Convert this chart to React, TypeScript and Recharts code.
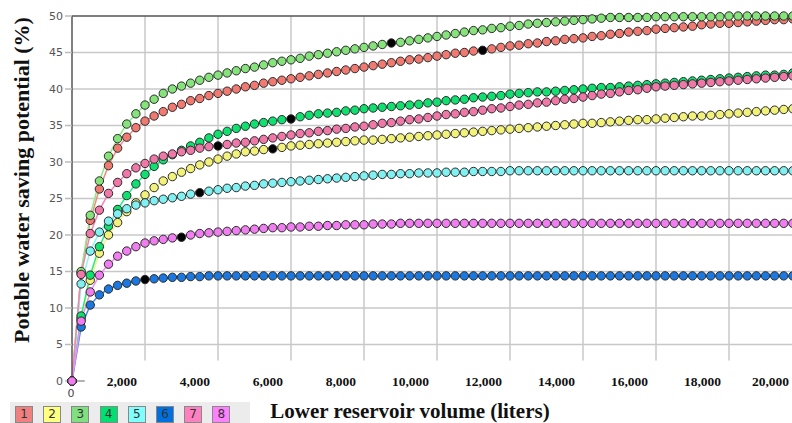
import React from "react";
import { LineChart, Line, XAxis, YAxis, ReferenceLine } from "recharts";

const volumes = [
  0, 250, 500, 750, 1000, 1250, 1500, 1750, 2000, 2250, 2500, 2750, 3000, 3250, 3500, 3750,
  4000, 4250, 4500, 4750, 5000, 5250, 5500, 5750, 6000, 6250, 6500, 6750, 7000, 7250, 7500, 7750,
  8000, 8250, 8500, 8750, 9000, 9250, 9500, 9750, 10000, 10250, 10500, 10750, 11000, 11250, 11500, 11750,
  12000, 12250, 12500, 12750, 13000, 13250, 13500, 13750, 14000, 14250, 14500, 14750, 15000, 15250, 15500, 15750,
  16000, 16250, 16500, 16750, 17000, 17250, 17500, 17750, 18000, 18250, 18500, 18750, 19000, 19250, 19500, 19750,
  20000,
];

const s1 = [
  0, 14.8, 22.0, 26.3, 29.5, 31.9, 33.4, 34.7, 35.6, 36.3, 36.9, 37.5, 37.9, 38.4, 38.7, 39.1,
  39.4, 39.7, 40.0, 40.3, 40.5, 40.8, 41.0, 41.2, 41.4, 41.6, 41.8, 42.0, 42.2, 42.4, 42.6, 42.8,
  43.0, 43.2, 43.4, 43.6, 43.8, 44.0, 44.1, 44.3, 44.5, 44.7, 44.9, 45.0, 45.2, 45.3, 45.5, 45.7,
  45.9, 46.0, 46.2, 46.3, 46.5, 46.6, 46.8, 46.9, 47.0, 47.2, 47.3, 47.5, 47.6, 47.8, 47.9, 48.0,
  48.2, 48.3, 48.4, 48.5, 48.6, 48.8, 48.9, 49.0, 49.0, 49.1, 49.2, 49.3, 49.4, 49.5, 49.5, 49.6,
  49.7,
];
const s2 = [
  0, 8.5, 13.8, 17.5, 20.0, 21.7, 23.2, 24.4, 25.5, 26.5, 27.4, 28.0, 28.6, 29.1, 29.6, 30.0,
  30.4, 30.8, 31.1, 31.4, 31.5, 31.7, 31.8, 32.0, 32.2, 32.3, 32.4, 32.5, 32.6, 32.7, 32.8, 32.9,
  33.0, 33.0, 33.1, 33.2, 33.3, 33.4, 33.5, 33.6, 33.7, 33.8, 33.9, 34.0, 34.1, 34.2, 34.3, 34.4,
  34.5, 34.6, 34.7, 34.8, 34.9, 35.0, 35.1, 35.2, 35.3, 35.3, 35.4, 35.5, 35.6, 35.7, 35.8, 35.8,
  35.9, 36.0, 36.1, 36.2, 36.3, 36.3, 36.4, 36.5, 36.6, 36.7, 36.8, 36.9, 37.0, 37.1, 37.2, 37.3,
  37.3,
];
const s3 = [
  0, 15.0, 22.7, 27.4, 30.8, 33.2, 35.2, 36.6, 37.8, 38.6, 39.4, 40.0, 40.4, 40.8, 41.2, 41.6,
  41.9, 42.2, 42.5, 42.8, 43.0, 43.3, 43.6, 43.8, 44.0, 44.2, 44.5, 44.7, 44.9, 45.1, 45.3, 45.5,
  45.7, 45.9, 46.1, 46.3, 46.4, 46.6, 46.8, 47.0, 47.2, 47.4, 47.6, 47.8, 48.0, 48.1, 48.3, 48.4,
  48.6, 48.7, 48.9, 49.0, 49.1, 49.2, 49.3, 49.4, 49.5, 49.6, 49.7, 49.8, 49.8, 49.8, 49.8, 49.8,
  49.9, 49.9, 49.9, 49.9, 49.9, 49.9, 49.9, 49.9, 50.0, 50.0, 50.0, 50.0, 50.0, 50.0, 50.0, 50.0,
  50.0,
];
const s4 = [
  0, 8.9, 14.5, 18.4, 21.2, 23.5, 25.4, 27.0, 28.3, 29.4, 30.3, 31.0, 31.6, 32.2, 32.7, 33.3,
  33.8, 34.2, 34.6, 34.9, 35.2, 35.4, 35.6, 35.8, 35.9, 36.2, 36.4, 36.6, 36.7, 36.8, 37.0, 37.1,
  37.3, 37.4, 37.5, 37.6, 37.7, 37.8, 37.9, 38.1, 38.2, 38.4, 38.5, 38.6, 38.8, 38.9, 39.0, 39.1,
  39.3, 39.4, 39.5, 39.6, 39.6, 39.7, 39.8, 39.9, 40.0, 40.1, 40.2, 40.2, 40.3, 40.4, 40.5, 40.6,
  40.7, 40.8, 40.9, 41.0, 41.1, 41.2, 41.3, 41.4, 41.5, 41.6, 41.7, 41.8, 41.9, 41.9, 42.0, 42.2,
  42.3,
];
const s5 = [
  0, 13.3, 17.8, 20.4, 21.9, 22.9, 23.6, 24.1, 24.4, 24.7, 24.9, 25.1, 25.3, 25.6, 25.8, 26.0,
  26.2, 26.4, 26.5, 26.7, 26.8, 27.0, 27.1, 27.2, 27.3, 27.4, 27.5, 27.6, 27.7, 27.8, 27.9, 28.0,
  28.1, 28.2, 28.3, 28.3, 28.4, 28.4, 28.5, 28.5, 28.5, 28.6, 28.6, 28.6, 28.7, 28.7, 28.7, 28.7,
  28.8, 28.8, 28.8, 28.8, 28.8, 28.8, 28.8, 28.8, 28.8, 28.8, 28.8, 28.8, 28.8, 28.8, 28.8, 28.8,
  28.8, 28.8, 28.8, 28.8, 28.8, 28.8, 28.8, 28.8, 28.8, 28.8, 28.8, 28.8, 28.8, 28.8, 28.8, 28.8,
  28.8,
];
const s6 = [
  0, 7.4, 10.4, 11.8, 12.6, 13.1, 13.4, 13.7, 13.9, 14.0, 14.1, 14.2, 14.2, 14.3, 14.3, 14.4,
  14.4, 14.4, 14.4, 14.4, 14.4, 14.4, 14.4, 14.4, 14.4, 14.4, 14.4, 14.4, 14.4, 14.4, 14.4, 14.4,
  14.4, 14.4, 14.4, 14.4, 14.4, 14.4, 14.4, 14.4, 14.4, 14.4, 14.4, 14.4, 14.4, 14.4, 14.4, 14.4,
  14.4, 14.4, 14.4, 14.4, 14.4, 14.4, 14.4, 14.4, 14.4, 14.4, 14.4, 14.4, 14.4, 14.4, 14.4, 14.4,
  14.4, 14.4, 14.4, 14.4, 14.4, 14.4, 14.4, 14.4, 14.4, 14.4, 14.4, 14.4, 14.4, 14.4, 14.4, 14.4,
  14.4,
];
const s7 = [
  0, 14.6, 20.2, 23.4, 25.7, 27.2, 28.4, 29.2, 29.8, 30.4, 30.8, 31.1, 31.4, 31.6, 31.9, 32.1,
  32.2, 32.4, 32.6, 32.7, 32.9, 33.1, 33.3, 33.5, 33.7, 33.9, 34.0, 34.2, 34.3, 34.5, 34.6, 34.8,
  34.9, 35.1, 35.3, 35.4, 35.6, 35.8, 35.9, 36.1, 36.3, 36.5, 36.6, 36.8, 36.9, 37.1, 37.3, 37.4,
  37.6, 37.8, 37.9, 38.1, 38.2, 38.4, 38.6, 38.7, 38.9, 39.1, 39.3, 39.4, 39.6, 39.8, 39.9, 40.1,
  40.3, 40.4, 40.5, 40.6, 40.7, 40.8, 40.9, 41.0, 41.1, 41.2, 41.3, 41.4, 41.5, 41.6, 41.7, 41.8,
  41.9,
];
const s8 = [
  0, 8.2, 12.2, 14.5, 16.0, 17.1, 17.8, 18.4, 18.9, 19.2, 19.4, 19.6, 19.7, 20.0, 20.2, 20.3,
  20.4, 20.5, 20.6, 20.7, 20.8, 20.9, 21.0, 21.0, 21.1, 21.1, 21.2, 21.2, 21.3, 21.3, 21.4, 21.4,
  21.4, 21.5, 21.5, 21.5, 21.6, 21.6, 21.6, 21.6, 21.6, 21.6, 21.6, 21.6, 21.6, 21.6, 21.6, 21.6,
  21.6, 21.6, 21.6, 21.6, 21.6, 21.6, 21.6, 21.6, 21.6, 21.6, 21.6, 21.6, 21.6, 21.6, 21.6, 21.6,
  21.6, 21.6, 21.6, 21.6, 21.6, 21.6, 21.6, 21.6, 21.6, 21.6, 21.6, 21.6, 21.6, 21.6, 21.6, 21.6,
  21.6,
];

const seriesNames = ["1", "2", "3", "4", "5", "6", "7", "8"];
const seriesValues = [s1, s2, s3, s4, s5, s6, s7, s8];
// index of the highlighted (black) point of each series
const blackIndex = [45, 22, 35, 24, 14, 8, 16, 12];

const fillColors = ["#f07a72", "#f2f27a", "#86e27a", "#10e070", "#80f0f0", "#1a78e0", "#f078a8", "#f07ef0"];
const lineColors = ["#f48a84", "#f4f48c", "#8aec86", "#20ec80", "#8af6f6", "#3a8aea", "#f484b4", "#f48cf4"];
const legendColors = ["#f08080", "#ffff80", "#80e080", "#00e070", "#80ffff", "#0070e0", "#ff80c0", "#ff80ff"];

const xTicks = [0, 2000, 4000, 6000, 8000, 10000, 12000, 14000, 16000, 18000, 20000];
const yTicks = [0, 5, 10, 15, 20, 25, 30, 35, 40, 45, 50];

const data = volumes.map((v, i) => {
  const row: Record<string, number> = { L: v };
  seriesValues.forEach((s, k) => {
    row["s" + (k + 1)] = s[i];
  });
  return row;
});

const XTick = (props: any) => {
  const { x, y, payload } = props;
  if (payload.value === 0) {
    return (
      <text x={x - 1} y={y + 16} textAnchor="middle" fontFamily="DejaVu Sans, Verdana, sans-serif" fontSize={11} fill="#444">
        0
      </text>
    );
  }
  const endX = Math.min(x - 8, 789);
  return (
    <text
      x={endX}
      y={y + 5}
      textAnchor="end"
      fontFamily="'Liberation Serif', 'Times New Roman', serif"
      fontWeight="bold"
      fontSize={13.5}
      fill="#111"
    >
      {payload.value.toLocaleString("en-US")}
    </text>
  );
};

const makeDot = (k: number) => (props: any) => {
  const { cx, cy, index } = props;
  const isBlack = index === blackIndex[k];
  return (
    <circle
      key={`d${k}-${index}`}
      cx={cx}
      cy={cy}
      r={4.2}
      fill={isBlack ? "#000" : fillColors[k]}
      stroke="#2a2a2a"
      strokeWidth={1}
    />
  );
};

export default function App() {
  return (
    <div
      style={{
        position: "absolute",
        left: 0,
        top: 0,
        width: 792,
        height: 423,
        overflow: "hidden",
        background: "#fff",
      }}
    >
      <LineChart width={830} height={423} data={data} margin={{ top: 16, right: 28, bottom: 0, left: 0 }}>
        <XAxis
          dataKey="L"
          type="number"
          domain={[0, 20000]}
          ticks={xTicks}
          axisLine={false}
          tickLine={false}
          tickSize={0}
          tickMargin={0}
          height={42}
          tick={<XTick />}
          interval={0}
        />
        <YAxis
          type="number"
          domain={[0, 50]}
          ticks={yTicks}
          width={72}
          tickSize={7}
          tickMargin={2}
          interval={0}
          axisLine={{ stroke: "#555", strokeWidth: 1.5 }}
          tickLine={{ stroke: "#bbb", strokeWidth: 1.5 }}
          tick={{ fontFamily: "DejaVu Sans, Verdana, sans-serif", fontSize: 11, fill: "#555" }}
        />
        {yTicks.slice(1, -1).map((t) => (
          <ReferenceLine key={"h" + t} y={t} stroke="#c8c8c8" strokeWidth={1.5} />
        ))}
        {xTicks.slice(1).map((t) => (
          <ReferenceLine
            key={"v" + t}
            segment={[
              { x: t, y: 2.8 },
              { x: t, y: 50 },
            ]}
            stroke="#c8c8c8"
            strokeWidth={1.5}
          />
        ))}
        <ReferenceLine
          segment={[
            { x: 0, y: 0 },
            { x: 350, y: 0 },
          ]}
          stroke="#999"
          strokeWidth={1.5}
        />
        <ReferenceLine y={50} stroke="#555" strokeWidth={1.5} />
        {seriesNames.map((n, k) => (
          <Line
            key={n}
            type="linear"
            dataKey={"s" + (k + 1)}
            stroke={lineColors[k]}
            strokeWidth={1.5}
            dot={makeDot(k)}
            activeDot={false}
            isAnimationActive={false}
          />
        ))}
      </LineChart>
      <div
        style={{
          position: "absolute",
          left: 22,
          top: 180,
          transform: "translate(-50%, -50%) rotate(-90deg)",
          whiteSpace: "nowrap",
          fontFamily: "'Liberation Serif', 'Times New Roman', serif",
          fontWeight: "bold",
          fontSize: 22,
          color: "#111",
        }}
      >
        Potable water saving potential (%)
      </div>
      <div
        style={{
          position: "absolute",
          left: 410,
          top: 411,
          transform: "translate(-50%, -50%)",
          whiteSpace: "nowrap",
          fontFamily: "'Liberation Serif', 'Times New Roman', serif",
          fontWeight: "bold",
          fontSize: 21,
          color: "#111",
        }}
      >
        Lower reservoir volume (liters)
      </div>
      <div
        style={{
          position: "absolute",
          left: 10,
          top: 402,
          width: 240,
          height: 21,
          background: "#ececec",
        }}
      />
      {seriesNames.map((n, k) => (
        <div
          key={"lg" + n}
          style={{
            position: "absolute",
            left: 15 + k * 28.2,
            top: 406,
            width: 16,
            height: 15,
            background: legendColors[k],
            border: "1px solid #888",
            fontFamily: "DejaVu Sans, Verdana, sans-serif",
            fontSize: 12,
            lineHeight: "15px",
            textAlign: "center",
            color: "#333",
          }}
        >
          {n}
        </div>
      ))}
    </div>
  );
}
